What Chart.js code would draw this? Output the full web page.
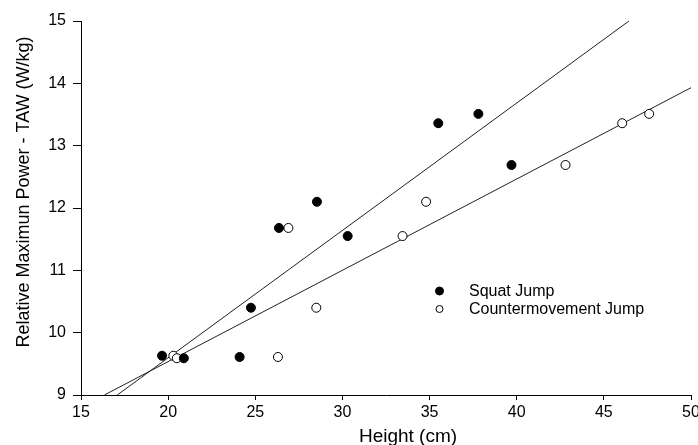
<!DOCTYPE html>
<html>
<head>
<meta charset="utf-8">
<script src="https://cdn.jsdelivr.net/npm/chart.js@4/dist/chart.umd.min.js"></script>
<style>
html,body{margin:0;padding:0;background:#fff;}
#wrap{width:698px;height:445px;position:relative;}
</style>
</head>
<body>
<div id="wrap"><canvas id="c" width="698" height="445"></canvas></div>
<script>
// Data
const squatX = [19.65, 20.9, 24.1, 24.75, 26.36, 28.54, 30.3, 35.5, 37.8, 39.7];
const squatY = [9.63, 9.59, 9.61, 10.40, 11.68, 12.10, 11.55, 13.36, 13.51, 12.69];
const cmjX = [20.3, 20.5, 26.3, 28.5, 26.9, 34.8, 33.45, 46.05, 47.6, 42.8];
const cmjY = [9.63, 9.59, 9.61, 10.40, 11.68, 12.10, 11.55, 13.36, 13.51, 12.69];
// Regression line end points
const squatFitX = [17.08, 46.44];
const squatFitY = [9, 15];
const cmjFitX = [16.34, 50];
const cmjFitY = [9, 13.93];
const xTicks = [15, 20, 25, 30, 35, 40, 45, 50];
const yTicks = [9, 10, 11, 12, 13, 14, 15];
const seriesNames = ['Squat Jump', 'Countermovement Jump'];
const xTitle = 'Height (cm)';
const yTitle = 'Relative Maximun Power - TAW (W/kg)';

const pts = (xs, ys) => xs.map((x, i) => ({x: x, y: ys[i]}));
const FONT = "'Liberation Sans', Arial, sans-serif";

const extras = {
  id: 'extras',
  afterDraw(chart) {
    const ctx = chart.ctx;
    const a = chart.chartArea;
    ctx.save();
    ctx.fillStyle = '#000';
    // axis titles
    ctx.font = '19px ' + FONT;
    ctx.textAlign = 'center';
    ctx.textBaseline = 'alphabetic';
    ctx.fillText(xTitle, a.left + 327, 442);
    ctx.save();
    ctx.translate(29, 192);
    ctx.rotate(-Math.PI / 2);
    ctx.font = '18px ' + FONT;
    ctx.fillText(yTitle, 0, 0);
    ctx.restore();
    // legend
    ctx.font = '16px ' + FONT;
    ctx.textAlign = 'left';
    const items = [
      {fill: '#000', y: 291, label: seriesNames[0], r: 4},
      {fill: '#fff', y: 309, label: seriesNames[1], r: 3.5}
    ];
    items.forEach(it => {
      ctx.beginPath();
      ctx.arc(439.5, it.y, it.r, 0, Math.PI * 2);
      ctx.fillStyle = it.fill;
      ctx.fill();
      ctx.lineWidth = 1;
      ctx.strokeStyle = '#000';
      ctx.stroke();
      ctx.fillStyle = '#000';
      ctx.fillText(it.label, 469, it.y + 5);
    });
    ctx.restore();
  }
};

new Chart(document.getElementById('c'), {
  type: 'scatter',
  data: {
    datasets: [
      {
        label: seriesNames[0] + ' fit',
        type: 'line',
        data: pts(squatFitX, squatFitY),
        borderColor: '#222',
        borderWidth: 1,
        pointRadius: 0,
        fill: false,
        order: 3
      },
      {
        label: seriesNames[1] + ' fit',
        type: 'line',
        data: pts(cmjFitX, cmjFitY),
        borderColor: '#222',
        borderWidth: 1,
        pointRadius: 0,
        fill: false,
        order: 3
      },
      {
        label: seriesNames[0],
        data: pts(squatX, squatY),
        backgroundColor: '#000',
        borderColor: '#000',
        borderWidth: 1,
        pointRadius: 4.5,
        order: 1
      },
      {
        label: seriesNames[1],
        data: pts(cmjX, cmjY),
        backgroundColor: '#fff',
        borderColor: '#000',
        borderWidth: 1,
        pointRadius: 4.5,
        order: 2
      }
    ]
  },
  options: {
    responsive: false,
    animation: false,
    devicePixelRatio: 1,
    layout: {padding: {top: 21, right: 0, left: 0, bottom: 0}},
    plugins: {legend: {display: false}, tooltip: {enabled: false}},
    scales: {
      x: {
        type: 'linear',
        min: 15, max: 50,
        afterBuildTicks: s => { s.ticks = xTicks.map(v => ({value: v})); },
        afterFit: s => { s.height = 50; s.paddingRight = 7; s.paddingLeft = 0; },
        grid: {display: true, drawOnChartArea: false, drawTicks: true, tickLength: 5, color: '#000', tickColor: '#000'},
        border: {display: true, color: '#000', width: 1},
        ticks: {color: '#000', font: {family: FONT, size: 16}, padding: 3, maxRotation: 0, autoSkip: false},
        title: {display: false}
      },
      y: {
        type: 'linear',
        min: 9, max: 15,
        afterBuildTicks: s => { s.ticks = yTicks.map(v => ({value: v})); },
        afterFit: s => { s.width = 81; s.paddingTop = 0; s.paddingBottom = 0; },
        grid: {display: true, drawOnChartArea: false, drawTicks: true, tickLength: 8, color: '#000', tickColor: '#000'},
        border: {display: true, color: '#000', width: 1},
        ticks: {color: '#000', font: {family: FONT, size: 16}, padding: 7, autoSkip: false},
        title: {display: false}
      }
    }
  },
  plugins: [extras]
});
</script>
</body>
</html>
